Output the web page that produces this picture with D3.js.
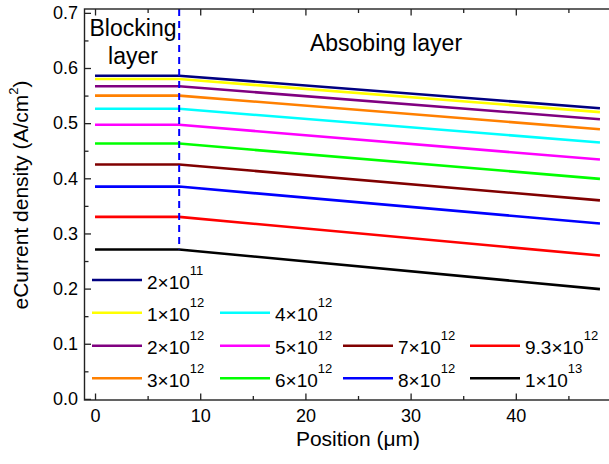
<!DOCTYPE html>
<html>
<head>
<meta charset="utf-8">
<script src="https://cdn.jsdelivr.net/npm/d3@7"></script>
<style>
  body { margin: 0; background: #fff; }
  svg { display: block; font-family: "Liberation Sans", Arial, sans-serif; }
</style>
</head>
<body>
<div id="chart"></div>
<script>
// positions along the device (um)
const positions = [0, 8, 48];
const boundary = 8;

// doping levels, shown as mantissa x 10^exp
const mantissas = ["2", "1", "2", "3", "4", "5", "6", "7", "8", "9.3", "1"];
const exponents = ["11", "12", "12", "12", "12", "12", "12", "12", "12", "12", "13"];
const colors = ["#000080", "#ffff00", "#800080", "#ff8000", "#00ffff", "#ff00ff",
                "#00ff00", "#800000", "#0000ff", "#ff0000", "#000000"];

// current density at each position (A/cm2)
const densities = [
    [0.586, 0.586, 0.527],
    [0.580, 0.580, 0.520],
    [0.567, 0.567, 0.507],
    [0.550, 0.550, 0.489],
    [0.526, 0.526, 0.465],
    [0.497, 0.497, 0.434],
    [0.463, 0.463, 0.399],
    [0.425, 0.425, 0.360],
    [0.385, 0.385, 0.318],
    [0.330, 0.330, 0.260],
    [0.271, 0.271, 0.199]
];

const xTicks = [0, 10, 20, 30, 40];
const yTicks = [0, 0.1, 0.2, 0.3, 0.4, 0.5, 0.6, 0.7];

const width = 609, height = 464;
const svg = d3.select("#chart").append("svg")
    .attr("width", width)
    .attr("height", height);

const x = d3.scaleLinear().domain([-1, 50]).range([84.5, 621]);
const y = d3.scaleLinear().domain([-0.002, 0.707]).range([400, 9]);

const plotLeft = x.range()[0], plotRight = x.range()[1];
const plotTop = y.range()[1], plotBottom = y.range()[0];

// lines
const line = d3.line()
    .x(d => x(d[0]))
    .y(d => y(d[1]));

svg.append("g").attr("class", "lines")
    .selectAll("path")
    .data(densities)
    .join("path")
    .attr("fill", "none")
    .attr("stroke", (d, i) => colors[i])
    .attr("stroke-width", 2.6)
    .attr("d", d => line(d.map((v, j) => [positions[j], v])));

// boundary between layers
svg.append("line")
    .attr("x1", x(boundary)).attr("x2", x(boundary))
    .attr("y1", plotTop).attr("y2", y(densities[densities.length - 1][0]))
    .attr("stroke", "#0000ff")
    .attr("stroke-width", 2)
    .attr("stroke-dasharray", "7,5");

// axes: inward ticks, minor every half step
function styleAxis(g) {
    g.select(".domain").remove();
    g.selectAll(".tick line").attr("stroke", "#222").attr("stroke-width", 1.3);
    g.selectAll("text").attr("fill", "#000").style("font-size", "18px");
}

const xMinor = d3.range(0, 50, 5).filter(v => !xTicks.includes(v));
const yMinor = d3.range(0.05, 0.7, 0.1);

svg.append("g")
    .attr("transform", `translate(0,${plotBottom})`)
    .call(d3.axisBottom(x).tickValues(xTicks).tickSizeInner(-6.5).tickSizeOuter(0).tickPadding(9))
    .call(styleAxis);
svg.append("g")
    .attr("transform", `translate(0,${plotBottom})`)
    .call(d3.axisBottom(x).tickValues(xMinor).tickSizeInner(-4).tickFormat(""))
    .call(styleAxis);
svg.append("g")
    .attr("transform", `translate(0,${plotTop})`)
    .call(d3.axisTop(x).tickValues(xTicks).tickSizeInner(-6.5).tickFormat(""))
    .call(styleAxis);
svg.append("g")
    .attr("transform", `translate(0,${plotTop})`)
    .call(d3.axisTop(x).tickValues(xMinor).tickSizeInner(-4).tickFormat(""))
    .call(styleAxis);

svg.append("g")
    .attr("transform", `translate(${plotLeft},0)`)
    .call(d3.axisLeft(y).tickValues(yTicks).tickSizeInner(-6.5).tickPadding(6.5).tickFormat(d3.format(".1f")))
    .call(styleAxis);
svg.append("g")
    .attr("transform", `translate(${plotLeft},0)`)
    .call(d3.axisLeft(y).tickValues(yMinor).tickSizeInner(-4).tickFormat(""))
    .call(styleAxis);

// frame
svg.append("rect")
    .attr("x", plotLeft).attr("y", plotTop)
    .attr("width", plotRight - plotLeft).attr("height", plotBottom - plotTop)
    .attr("fill", "none")
    .attr("stroke", "#222")
    .attr("stroke-width", 1.4);

// axis titles
svg.append("text")
    .attr("x", 358).attr("y", 446)
    .attr("text-anchor", "middle")
    .style("font-size", "21px")
    .text("Position (\u03bcm)");

const yTitle = svg.append("text")
    .attr("transform", "translate(28,195) rotate(-90)")
    .attr("text-anchor", "middle")
    .style("font-size", "21px");
yTitle.append("tspan").text("eCurrent density (A/cm");
yTitle.append("tspan").attr("dy", -10).style("font-size", "13px").text("2");
yTitle.append("tspan").attr("dy", 10).text(")");

// layer labels
svg.append("text").attr("x", 133).attr("y", 36).attr("text-anchor", "middle")
    .style("font-size", "23px").text("Blocking");
svg.append("text").attr("x", 133).attr("y", 64).attr("text-anchor", "middle")
    .style("font-size", "23px").text("layer");
svg.append("text").attr("x", 386).attr("y", 51).attr("text-anchor", "middle")
    .style("font-size", "23px").text("Absobing layer");

// legend: [column, row] for each series
const slots = [[0, 0], [0, 1], [0, 2], [0, 3], [1, 1], [1, 2], [1, 3], [2, 2], [2, 3], [3, 2], [3, 3]];
const colX = [92, 220, 343, 470];
const rowY = [280, 312.7, 345.7, 378.3];

const legend = svg.append("g").attr("class", "legend")
    .selectAll("g")
    .data(mantissas)
    .join("g")
    .attr("transform", (d, i) => `translate(${colX[slots[i][0]]},${rowY[slots[i][1]]})`);

legend.append("line")
    .attr("x1", 0).attr("x2", 50)
    .attr("stroke", (d, i) => colors[i])
    .attr("stroke-width", 2.6);

const label = legend.append("text")
    .attr("x", 55).attr("y", 8.5)
    .style("font-size", "19px");
label.append("tspan").text(d => d + "\u00d710");
label.append("tspan").attr("dy", -14).style("font-size", "13px").text((d, i) => exponents[i]);
</script>
</body>
</html>
